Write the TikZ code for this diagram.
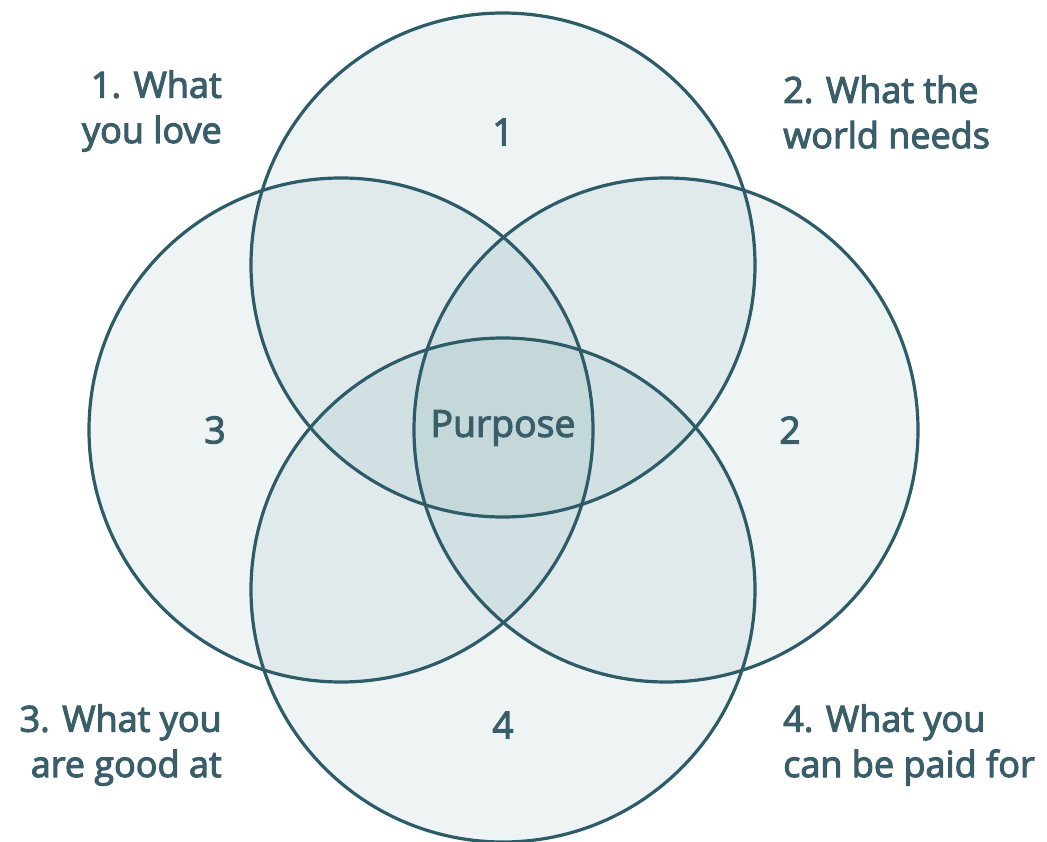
\documentclass[tikz,border=0pt]{standalone}
\usepackage{fontspec}
\setmainfont{Open Sans}
\newfontfamily\semifont{Open Sans}[FakeBold=3]
\definecolor{tealline}{RGB}{45,91,103}
\definecolor{tealfill}{RGB}{44,110,120}
\definecolor{tealtext}{RGB}{58,94,105}
\tikzset{
  petal/.style={fill=tealfill, fill opacity=0.078},
  lbl/.style={text=tealtext, font=\semifont\fontsize{27}{34}\selectfont, inner sep=0pt},
  num/.style={text=tealtext, font=\semifont\fontsize{28}{30}\selectfont, inner sep=0pt}
}
\begin{document}
\begin{tikzpicture}[x=0.75pt, y=-0.75pt]
    \useasboundingbox (0,0) rectangle (1047,842);

    % Centros de los circulos
    \coordinate (c1) at (503,265);
    \coordinate (c2) at (666,430);
    \coordinate (c3) at (341,430);
    \coordinate (c4) at (503,590);

    % Circulos
    \foreach \c in {c1,c2,c3,c4}
        \fill[petal] (\c) circle (252);
    \foreach \c in {c1,c2,c3,c4}
        \draw[tealline, line width=2.4pt] (\c) circle (252);

    % Numeros dentro de los circulos
    \node[num] (n1) at (503,132) {1};
    \node[num] (n2) at (790,430) {2};
    \node[num] (n3) at (215,430) {3};
    \node[num] (n4) at (503,725) {4};
    \node[num] (purpose) at (503,428) {Purpose};

    % Etiquetas de las esquinas
    \node[lbl, anchor=east, align=right] (l1) at (222,111) {1. What\\you love};
    \node[lbl, anchor=west, align=left] (l2) at (783,112) {2. What the\\world needs};
    \node[lbl, anchor=east, align=right] (l3) at (222,745) {3. What you\\are good at};
    \node[lbl, anchor=west, align=left] (l4) at (783,745) {4. What you\\can be paid for};
\end{tikzpicture}
\end{document}
